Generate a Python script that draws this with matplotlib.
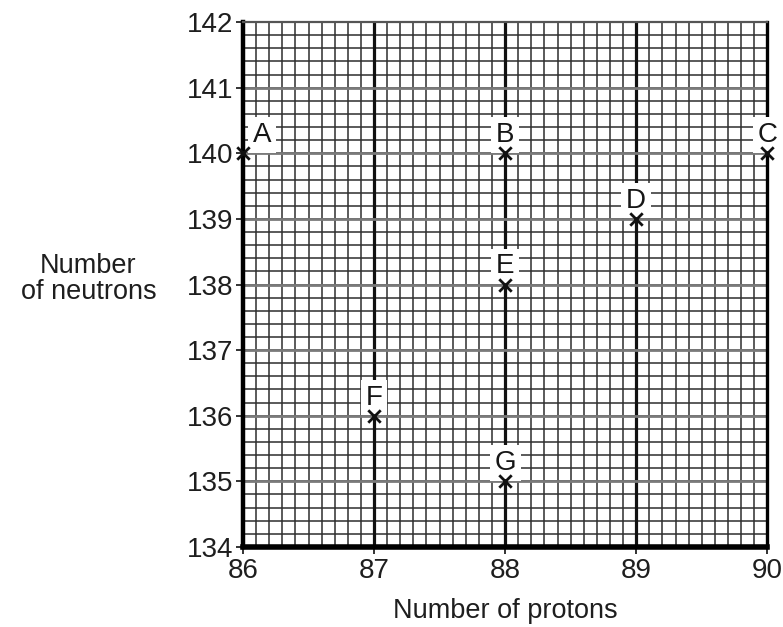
import matplotlib
matplotlib.use("Agg")
import matplotlib.pyplot as plt
import numpy as np

plt.rcParams['font.family'] = ['Liberation Sans', 'DejaVu Sans']

labels = ["A", "B", "C", "D", "E", "F", "G"]
protons = [86, 88, 90, 89, 88, 87, 88]
neutrons = [140, 140, 140, 139, 138, 136, 135]

x_ticks = [86, 87, 88, 89, 90]
y_ticks = [134, 135, 136, 137, 138, 139, 140, 141, 142]

fig = plt.figure(figsize=(7.83, 6.27), dpi=100)
ax = fig.add_axes([0.3103, 0.1276, 0.6696, 0.8373])
ax.set_xlim(86, 90)
ax.set_ylim(134, 142)

# fine graph-paper grid: 0.1 in protons, 0.2 in neutrons
for xv in np.arange(86, 90.001, 0.1):
    ax.axvline(xv, color="#2e2e2e", lw=1.1, zorder=1)
for yv in np.arange(134, 142.001, 0.2):
    ax.axhline(yv, color="#2e2e2e", lw=1.1, zorder=1)
# heavier lines at whole numbers
for xv in x_ticks[1:-1]:
    ax.axvline(xv, color="#111111", lw=2.3, zorder=2)
for yv in y_ticks[1:-1]:
    ax.axhline(yv, color="#7a7a7a", lw=2.0, zorder=2)

ax.scatter(protons, neutrons, marker="x", s=80, color="#111111",
           linewidths=2.0, zorder=8, clip_on=False)
for lab, px, ny in zip(labels, protons, neutrons):
    dx = 0.145 if lab == "A" else 0.0
    ax.text(px + dx, ny + 0.17, lab, ha="center", va="baseline", fontsize=20,
            color="#161616", zorder=6,
            bbox=dict(facecolor="white", edgecolor="none", pad=3.5))

ax.spines["left"].set_linewidth(3.2)
ax.spines["bottom"].set_linewidth(4.0)
ax.spines["right"].set_linewidth(2.4)
ax.spines["top"].set_linewidth(1.6)
ax.spines["top"].set_color("#555555")

ax.set_xticks(x_ticks)
ax.set_yticks(y_ticks)
ax.tick_params(axis="both", labelsize=20, length=5, width=1.2, color="#111111",
               labelcolor="#1e1e1e")
ax.tick_params(axis="x", pad=3)
ax.tick_params(axis="y", pad=2)

fig.text(0.645, 1 - 618 / 627, "Number of protons", ha="center", va="baseline",
         fontsize=19.5, color="#1e1e1e")
fig.text(0.113, 0.555, "Number\nof neutrons", ha="center", va="center",
         fontsize=19.5, color="#1e1e1e", linespacing=1.0)

fig.savefig("out.png", dpi=100, facecolor="white")
